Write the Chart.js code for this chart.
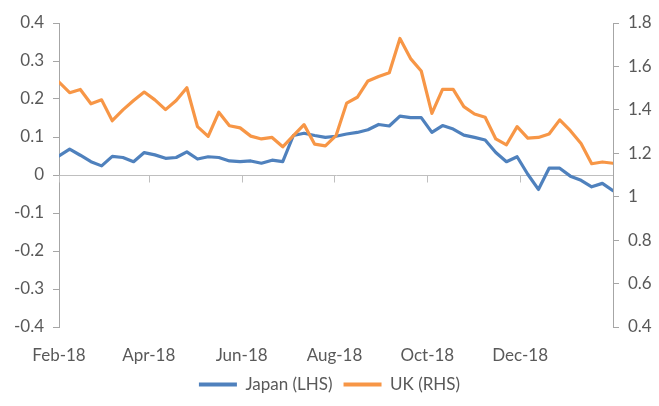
<!DOCTYPE html>
<html>
<head>
<meta charset="utf-8">
<script src="https://cdn.jsdelivr.net/npm/chart.js@4/dist/chart.umd.min.js"></script>
<style>
  html, body { margin: 0; padding: 0; background: #fff; }
  #wrap { width: 659px; height: 406px; }
</style>
</head>
<body>
<div id="wrap"><canvas id="chart" width="659" height="406"></canvas></div>
<script>
// weekly observations
const weekDates = [
    '2018-02-01', '2018-02-08', '2018-02-15', '2018-02-22', '2018-03-01', '2018-03-08', '2018-03-15',
    '2018-03-22', '2018-03-29', '2018-04-05', '2018-04-12', '2018-04-19', '2018-04-26', '2018-05-03',
    '2018-05-10', '2018-05-17', '2018-05-24', '2018-05-31', '2018-06-07', '2018-06-14', '2018-06-21',
    '2018-06-28', '2018-07-05', '2018-07-12', '2018-07-19', '2018-07-26', '2018-08-02', '2018-08-09',
    '2018-08-16', '2018-08-23', '2018-08-30', '2018-09-06', '2018-09-13', '2018-09-20', '2018-09-27',
    '2018-10-04', '2018-10-11', '2018-10-18', '2018-10-25', '2018-11-01', '2018-11-08', '2018-11-15',
    '2018-11-22', '2018-11-29', '2018-12-06', '2018-12-13', '2018-12-20', '2018-12-27', '2019-01-03',
    '2019-01-10', '2019-01-17', '2019-01-24', '2019-01-31'
];

const japan = [
    0.050, 0.068, 0.052, 0.035, 0.024, 0.049, 0.046, 0.035, 0.059, 0.053,
    0.044, 0.046, 0.061, 0.042, 0.048, 0.046, 0.037, 0.035, 0.037, 0.031,
    0.039, 0.035, 0.104, 0.110, 0.104, 0.099, 0.102, 0.108, 0.112, 0.119,
    0.133, 0.129, 0.155, 0.151, 0.151, 0.112, 0.130, 0.121, 0.105, 0.099,
    0.092, 0.059, 0.035, 0.048, 0.002, -0.038, 0.018, 0.018, -0.003, -0.014,
    -0.031, -0.022, -0.041
];

const uk = [
    1.528, 1.479, 1.494, 1.428, 1.446, 1.350, 1.400, 1.443, 1.482, 1.446,
    1.401, 1.443, 1.502, 1.323, 1.278, 1.389, 1.327, 1.317, 1.279, 1.266,
    1.273, 1.230, 1.281, 1.332, 1.242, 1.234, 1.281, 1.431, 1.458, 1.533,
    1.554, 1.571, 1.729, 1.636, 1.579, 1.384, 1.494, 1.494, 1.415, 1.381,
    1.366, 1.266, 1.239, 1.323, 1.270, 1.273, 1.289, 1.354, 1.304, 1.245,
    1.152, 1.160, 1.154
];

const tickDates = ['2018-02-01', '2018-04-01', '2018-06-01', '2018-08-01', '2018-10-01', '2018-12-01'];
const tickLabels = ['Feb-18', 'Apr-18', 'Jun-18', 'Aug-18', 'Oct-18', 'Dec-18'];

const DAY = 86400000;
const t0 = Date.parse(weekDates[0]);
const dayOf = d => Math.round((Date.parse(d) - t0) / DAY);
const tickDays = tickDates.map(dayOf);
const lastDay = dayOf(weekDates[weekDates.length - 1]);

const textColor = '#595959';
const axisColor = '#a6a6a6';
const fmt = v => String(+v.toFixed(1));

Chart.defaults.font.family = 'Lato, "Open Sans", sans-serif';
Chart.defaults.font.size = 17;
Chart.defaults.color = textColor;

// small tick marks hanging off the zero line
const zeroTicks = {
    id: 'zeroTicks',
    beforeDatasetsDraw(chart) {
        const { ctx, scales } = chart;
        const y0 = Math.round(scales.y.getPixelForValue(0)) + 0.5;
        ctx.save();
        ctx.strokeStyle = '#bfbfbf';
        ctx.lineWidth = 1;
        tickDays.forEach(d => {
            const px = Math.round(scales.x.getPixelForValue(d)) + 0.5;
            ctx.beginPath();
            ctx.moveTo(px, y0);
            ctx.lineTo(px, y0 + 7);
            ctx.stroke();
        });
        ctx.restore();
    }
};

const ctx = document.getElementById('chart').getContext('2d');
new Chart(ctx, {
    type: 'line',
    data: {
        datasets: [{
            label: 'Japan (LHS)',
            data: weekDates.map((d, i) => ({ x: dayOf(d), y: japan[i] })),
            yAxisID: 'y',
            borderColor: '#4F81BD',
            backgroundColor: '#4F81BD',
            borderWidth: 3.2,
            pointRadius: 0,
            tension: 0,
            borderJoinStyle: 'round',
            borderCapStyle: 'round',
            order: 1
        }, {
            label: 'UK (RHS)',
            data: weekDates.map((d, i) => ({ x: dayOf(d), y: uk[i] })),
            yAxisID: 'y2',
            borderColor: '#F79646',
            backgroundColor: '#F79646',
            borderWidth: 3.2,
            pointRadius: 0,
            tension: 0,
            borderJoinStyle: 'round',
            borderCapStyle: 'round',
            order: 0
        }]
    },
    options: {
        responsive: false,
        animation: false,
        layout: { padding: { top: 23, left: 0, right: 0, bottom: 3 } },
        plugins: {
            tooltip: { enabled: false },
            legend: {
                position: 'bottom',
                labels: {
                    boxWidth: 38,
                    boxHeight: 4,
                    padding: 11,
                    color: textColor,
                    sort: (a, b) => a.datasetIndex - b.datasetIndex,
                    generateLabels: chart => Chart.defaults.plugins.legend.labels.generateLabels(chart)
                        .map(l => Object.assign(l, { lineWidth: 0 }))
                }
            }
        },
        scales: {
            x: {
                type: 'linear',
                min: 0,
                max: lastDay,
                grid: { display: false, drawTicks: false },
                border: { display: false },
                afterBuildTicks: scale => { scale.ticks = tickDays.map(v => ({ value: v })); },
                afterFit: scale => { scale.height = 38; },
                ticks: {
                    autoSkip: false,
                    maxRotation: 0,
                    padding: 18,
                    callback: (v, i) => tickLabels[i]
                }
            },
            y: {
                position: 'left',
                min: -0.4,
                max: 0.4,
                afterFit: scale => { scale.width = 59; },
                border: { display: true, color: axisColor },
                grid: {
                    drawOnChartArea: true,
                    color: c => (c.tick && Math.abs(c.tick.value) < 1e-9) ? '#bfbfbf' : 'rgba(0,0,0,0)',
                    tickColor: axisColor,
                    tickLength: 6
                },
                ticks: { stepSize: 0.1, padding: 9, callback: fmt }
            },
            y2: {
                position: 'right',
                min: 0.4,
                max: 1.8,
                afterFit: scale => { scale.width = 46; },
                border: { display: true, color: axisColor },
                grid: { drawOnChartArea: false, tickColor: axisColor, tickLength: 6 },
                ticks: { stepSize: 0.2, padding: 9, callback: fmt }
            }
        }
    },
    plugins: [zeroTicks]
});
</script>
</body>
</html>
